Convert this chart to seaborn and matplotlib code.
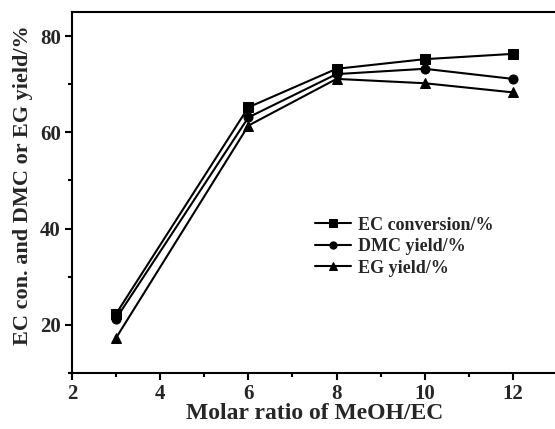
import matplotlib
matplotlib.use("Agg")
import matplotlib.pyplot as plt
import seaborn as sns
import pandas as pd
from matplotlib.ticker import MultipleLocator

ratio = [3, 6, 8, 10, 12]
ec_conversion = [22.3, 65.2, 73.2, 75.2, 76.3]
dmc_yield = [21.3, 63.1, 72.1, 73.2, 71.1]
eg_yield = [17.3, 61.4, 71.1, 70.2, 68.3]
series_names = ["EC conversion/%", "DMC yield/%", "EG yield/%"]

df = pd.concat([
    pd.DataFrame({"x": ratio, "y": vals, "series": name})
    for name, vals in zip(series_names, [ec_conversion, dmc_yield, eg_yield])
])

sns.set_theme(style="white")
plt.rcParams['font.family'] = ['Liberation Serif', 'DejaVu Serif']
plt.rcParams['font.weight'] = 'bold'

fig = plt.figure(figsize=(5.55, 4.29), dpi=100)
W, H = 555, 429
left, right_px, top, bottom = 72, 557, 12, 373
ax = fig.add_axes([left / W, 1 - bottom / H, (right_px - left) / W, (bottom - top) / H])

sns.lineplot(data=df, x="x", y="y", hue="series", style="series",
             palette=["black"] * 3, markers=["s", "o", "^"], dashes=False,
             markersize=6.5, linewidth=1.5, markeredgecolor="black", ax=ax, legend=True)

ax.set_xlim(2, 13)
ax.set_ylim(10, 85)
ax.xaxis.set_major_locator(MultipleLocator(2))
ax.xaxis.set_minor_locator(MultipleLocator(1))
ax.yaxis.set_major_locator(MultipleLocator(20))
ax.yaxis.set_minor_locator(MultipleLocator(10))
ax.tick_params(which="both", direction="out", color="black", width=1.5,
               bottom=True, left=True, top=False, right=False)
ax.tick_params(which="major", length=5, labelsize=15, pad=3)
ax.tick_params(which="minor", length=3)
ax.set_yticks([20, 40, 60, 80])
for lab in ax.get_xticklabels() + ax.get_yticklabels():
    lab.set_fontweight("bold")
for s in ax.spines.values():
    s.set_color("black")
    s.set_linewidth(1.5)

ax.set_xlabel("Molar ratio of MeOH/EC", fontsize=17, fontweight="bold", labelpad=-1)
ax.set_ylabel("EC con. and DMC or EG yield/%", fontsize=16, fontweight="bold")
ax.yaxis.set_label_coords(-0.08, 0.52)

leg = ax.legend(loc="upper left", bbox_to_anchor=(0.482, 0.458), frameon=False,
                fontsize=13, handlelength=2.0, handletextpad=0.4, labelspacing=0.25,
                borderpad=0, markerscale=0.8)
for t in leg.get_texts():
    t.set_fontweight("bold")

fig.savefig("out.png", dpi=100)
